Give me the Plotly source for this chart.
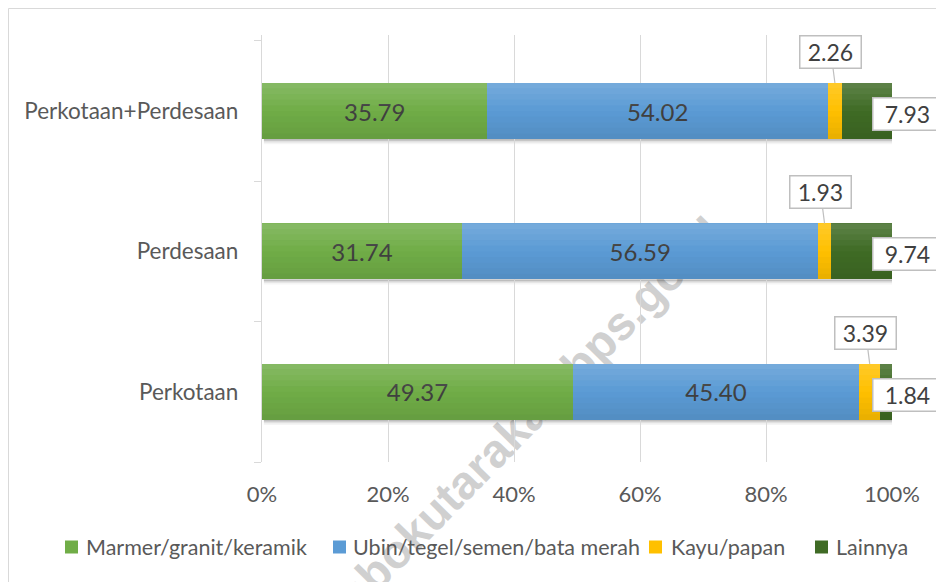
import plotly.graph_objects as go

categories = ["Perkotaan", "Perdesaan", "Perkotaan+Perdesaan"]
marmer = [49.37, 31.74, 35.79]
ubin = [45.40, 56.59, 54.02]
kayu = [3.39, 1.93, 2.26]
lainnya = [1.84, 9.74, 7.93]
series_names = ["Marmer/granit/keramik", "Ubin/tegel/semen/bata merah", "Kayu/papan", "Lainnya"]
x_ticks = [0, 20, 40, 60, 80, 100]
x_tick_labels = ["0%", "20%", "40%", "60%", "80%", "100%"]
watermark = "lombokutarakab.bps.go.id"

colors = ["#70AD47", "#5B9BD5", "#FFC000", "#3F6B25"]
FONT = "Lato, Open Sans, sans-serif"
TXT = "#595959"

# page has an 8px body margin; figure is sized to compensate
W, H = 936, 574
ML, MR, MT, MB = 254, 52, 27, 120
PW, PH = W - ML - MR, H - MT - MB
BAR_HALF = 0.2


def px_x(p):
    return (p - ML) / PW


def px_y(p):
    return (H - MB - p) / PH


fig = go.Figure()
for name, vals, col, show_text in zip(series_names, [marmer, ubin, kayu, lainnya], colors,
                                      [True, True, False, False]):
    fig.add_trace(go.Bar(
        y=categories, x=vals, name=name, orientation="h",
        marker=dict(color=col, line=dict(width=0)),
        text=[f"{v:.2f}" for v in vals] if show_text else None,
        textposition="inside" if show_text else "none",
        insidetextanchor="middle",
        textfont=dict(family=FONT, size=24, color="#404040"),
        hoverinfo="skip", showlegend=False,
    ))

annotations = []
shapes = []

# callouts for Kayu/papan
for cat, m, u, k in zip(categories, marmer, ubin, kayu):
    annotations.append(dict(
        x=m + u + k / 2, y=cat, xref="x", yref="y", yshift=28,
        text=f"{k:.2f}", showarrow=True, arrowhead=0, arrowwidth=1.2,
        arrowcolor="#BFBFBF", ax=-4, ay=-31, standoff=0,
        bgcolor="white", bordercolor="#BFBFBF", borderwidth=1.5, borderpad=2,
        width=56, height=27,
        font=dict(family=FONT, size=23, color="#404040"),
    ))
# callouts for Lainnya
for cat, m, u, k, l in zip(categories, marmer, ubin, kayu, lainnya):
    annotations.append(dict(
        x=m + u + k + l, y=cat, xref="x", yref="y", xanchor="left", xshift=-20, yshift=-3,
        text=f"{l:.2f}", showarrow=False,
        bgcolor="white", bordercolor="#BFBFBF", borderwidth=1.5, borderpad=2,
        width=64, height=27,
        font=dict(family=FONT, size=23, color="#404040"),
    ))

# soft shadow below each bar and a vertical gradient over each bar
N = 10
for i, (m, u, k, l) in enumerate(zip(marmer, ubin, kayu, lainnya)):
    total = m + u + k + l
    for d, a in [(0.012, 0.16), (0.024, 0.08), (0.036, 0.04)]:
        shapes.append(dict(type="rect", xref="x", yref="y", x0=0.3, x1=total + 0.3,
                           y0=i - BAR_HALF - d, y1=i - BAR_HALF, line=dict(width=0),
                           fillcolor=f"rgba(0,0,0,{a})", layer="below"))
    for j in range(N):
        t = (j + 0.5) / N
        top = i + BAR_HALF - 2 * BAR_HALF * j / N
        bot = i + BAR_HALF - 2 * BAR_HALF * (j + 1) / N
        if t < 0.5:
            fc = f"rgba(255,255,255,{0.17 * (0.5 - t) / 0.5:.3f})"
        else:
            fc = f"rgba(0,0,0,{0.09 * (t - 0.5) / 0.5:.3f})"
        shapes.append(dict(type="rect", xref="x", yref="y", x0=0, x1=total,
                           y0=bot, y1=top, line=dict(width=0), fillcolor=fc, layer="above"))

# watermark, drawn beneath the bars
shapes.append(dict(
    type="line", xref="paper", yref="paper",
    x0=px_x(289), y0=px_y(637), x1=px_x(710), y1=px_y(209),
    line=dict(color="rgba(0,0,0,0)", width=0), layer="below",
    label=dict(text="<b>" + watermark + "</b>", textposition="middle", textangle=-45.5,
               yanchor="middle",
               font=dict(family="Liberation Sans, Arial", size=47, color="#D0D0D0")),
))

# chart border
shapes.append(dict(type="rect", xref="paper", yref="paper",
                   x0=px_x(0.5), x1=px_x(W + 20), y0=px_y(H + 20), y1=px_y(0.5),
                   line=dict(color="#D9D9D9", width=1), fillcolor="rgba(0,0,0,0)", layer="below"))

# manual legend (single row as in the reference)
leg_y = px_y(539)
leg_sq = [57, 325, 641, 807]
leg_tx = [76, 343, 661, 826]
for name, col, sq, tx in zip(series_names, colors, leg_sq, leg_tx):
    shapes.append(dict(type="rect", xref="paper", yref="paper",
                       x0=px_x(sq), x1=px_x(sq + 13), y0=px_y(539 + 6.5), y1=px_y(539 - 6.5),
                       line=dict(width=0), fillcolor=col))
    annotations.append(dict(x=px_x(tx), y=leg_y, xref="paper", yref="paper", text=name,
                            showarrow=False, xanchor="left", yanchor="middle",
                            font=dict(family=FONT, size=21.5, color=TXT)))

fig.update_layout(
    width=W, height=H,
    margin=dict(l=ML, r=MR, t=MT, b=MB, autoexpand=False),
    paper_bgcolor="white", plot_bgcolor="rgba(0,0,0,0)",
    barmode="stack", bargap=1 - 2 * BAR_HALF,
    font=dict(family=FONT, size=22, color=TXT),
    showlegend=False,
    annotations=annotations,
    shapes=shapes,
)
fig.update_xaxes(range=[0, 100], tickvals=x_ticks, ticktext=x_tick_labels,
                 showgrid=True, gridcolor="#D9D9D9", gridwidth=1.3, zeroline=False,
                 showline=False, ticks="", ticklabelstandoff=17,
                 tickfont=dict(family=FONT, size=22, color=TXT), fixedrange=True)
fig.update_yaxes(type="category", categoryorder="array", categoryarray=categories,
                 showline=True, linecolor="#D9D9D9", linewidth=1.3,
                 ticks="outside", ticklen=7, tickcolor="#D9D9D9", tickwidth=1.3,
                 tickson="boundaries", showgrid=False, ticklabelstandoff=18,
                 tickfont=dict(family=FONT, size=22.5, color=TXT), fixedrange=True)

fig.write_html("out.html")
